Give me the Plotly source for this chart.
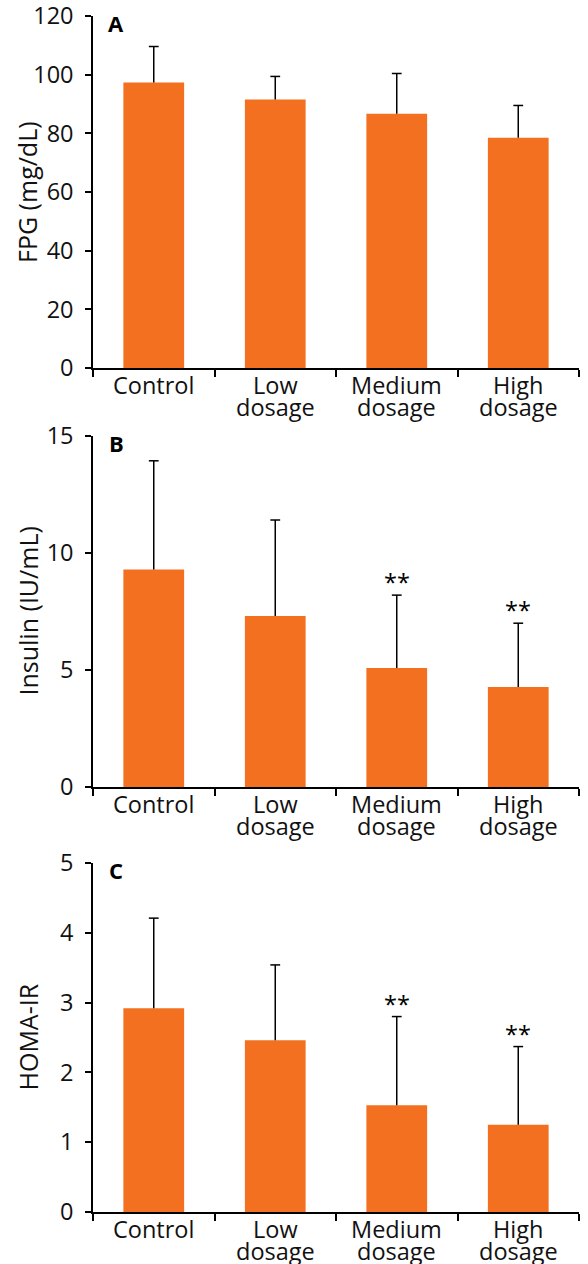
import plotly.graph_objects as go
from plotly.subplots import make_subplots

categories = ["Control", "Low dosage", "Medium dosage", "High dosage"]

fpg_mean = [97.3, 91.5, 86.7, 78.5]
fpg_sd = [12.3, 7.9, 13.7, 11.0]

insulin_mean = [9.30, 7.31, 5.09, 4.27]
insulin_sd = [4.64, 4.10, 3.11, 2.73]

homa_mean = [2.92, 2.46, 1.53, 1.25]
homa_sd = [1.29, 1.08, 1.27, 1.12]

insulin_sig = ["", "", "**", "**"]
homa_sig = ["", "", "**", "**"]

panels = [
    dict(mean=fpg_mean, sd=fpg_sd, title="FPG (mg/dL)", rng=[0, 120], dtick=20, letter="A", sig=None),
    dict(mean=insulin_mean, sd=insulin_sd, title="Insulin (IU/mL)", rng=[0, 15], dtick=5, letter="B", sig=insulin_sig),
    dict(mean=homa_mean, sd=homa_sd, title="HOMA-IR", rng=[0, 5], dtick=1, letter="C", sig=homa_sig),
]

BAR = "#F37021"
FONT = "Open Sans"
TXT = "#111111"
FS = 23.5

fig = make_subplots(rows=3, cols=1)

W, H = 588, 1264
ml, mr, mt, mb = 93, 9, 16, 52
ph = H - mt - mb
pw = W - ml - mr
def py(pix):
    return (H - mb - pix) / ph

domains = [(py(368), 1.0), (py(787), py(436)), (0.0, py(863))]

for i, p in enumerate(panels):
    r = i + 1
    xref = "x" if r == 1 else f"x{r}"
    yref = "y" if r == 1 else f"y{r}"
    tops = [m + s for m, s in zip(p["mean"], p["sd"])]
    fig.add_trace(go.Bar(
        x=categories, y=p["mean"], width=0.5,
        marker=dict(color=BAR, line=dict(width=0)),
        error_y=dict(type="data", symmetric=False, array=p["sd"],
                     arrayminus=[0] * len(p["sd"]), color="black",
                     thickness=1.5, width=0),
        showlegend=False, hoverinfo="skip",
    ), row=r, col=1)
    # caps at top of the error bars
    fig.add_trace(go.Scatter(
        x=categories, y=tops, mode="markers",
        marker=dict(symbol="line-ew-open", size=7, color="black",
                    line=dict(width=1.5, color="black")),
        showlegend=False, hoverinfo="skip",
    ), row=r, col=1)
    xa = "xaxis" if r == 1 else f"xaxis{r}"
    ya = "yaxis" if r == 1 else f"yaxis{r}"
    fig.layout[xa].update(
        domain=[0, 1], type="category", range=[-0.5, 3.5], automargin=False,
        showline=True, linecolor="black", linewidth=1.5,
        ticks="outside", tickson="boundaries", ticklen=7, tickwidth=1.5, tickcolor="black",
        showticklabels=False,
        showgrid=False, zeroline=False,
    )
    fig.layout[ya].update(
        domain=list(domains[i]), range=p["rng"], dtick=p["dtick"], tick0=0, automargin=False,
        showline=True, linecolor="black", linewidth=1.5,
        ticks="outside", ticklen=6, tickwidth=1.5, tickcolor="black",
        tickfont=dict(family=FONT, size=FS, color=TXT), ticklabelstandoff=7,
        ticklabeloverflow="allow",
        showgrid=False, zeroline=False,
    )
    # y-axis title
    fig.add_annotation(
        text=p["title"], textangle=-90, xref=f"{xref} domain", yref=f"{yref} domain",
        x=(27 - ml) / pw, y=0.5, xanchor="center", yanchor="middle", showarrow=False,
        font=dict(family=FONT, size=25, color=TXT),
    )
    # category labels, one line at a time
    for c in categories:
        words = c.split(" ")
        fig.add_annotation(
            text=words[0], x=c, xref=xref, yref=f"{yref} domain", y=0,
            xanchor="center", yanchor="middle", yshift=-17, showarrow=False,
            font=dict(family=FONT, size=FS, color=TXT),
        )
        if len(words) > 1:
            fig.add_annotation(
                text=words[1], x=c, xref=xref, yref=f"{yref} domain", y=0,
                xanchor="center", yanchor="middle", yshift=-39, showarrow=False,
                font=dict(family=FONT, size=FS, color=TXT),
            )
    fig.add_annotation(
        text=f"<b>{p['letter']}</b>", xref=f"{xref} domain", yref=f"{yref} domain",
        x=0.048, y=0.98, xanchor="center", yanchor="middle", showarrow=False,
        font=dict(family=FONT, size=22, color="black"),
    )
    if p["sig"]:
        for c, t, top in zip(categories, p["sig"], tops):
            if t:
                fig.add_annotation(
                    text=t, x=c, y=top, xref=xref, yref=yref,
                    xanchor="center", yanchor="middle", yshift=13, showarrow=False,
                    font=dict(family=FONT, size=FS, color="black"),
                )

fig.update_layout(
    width=W, height=H,
    margin=dict(l=ml, r=mr, t=mt, b=mb),
    paper_bgcolor="white", plot_bgcolor="white",
    bargap=0.5,
)

fig.write_html("out.html", config={"displayModeBar": False},
               post_script="document.body.style.margin='0';")
